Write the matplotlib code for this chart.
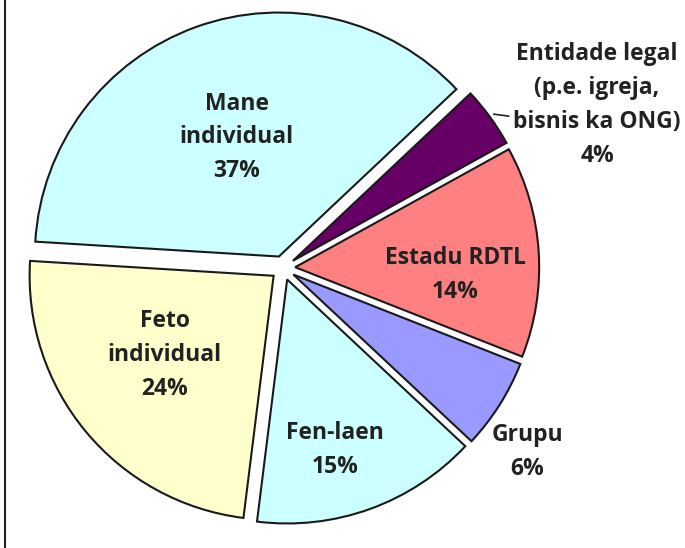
import numpy as np
import matplotlib
matplotlib.use("Agg")
import matplotlib.pyplot as plt
from matplotlib.lines import Line2D

plt.rcParams['font.family'] = ['Open Sans', 'DejaVu Sans']

# data
categories = ["Mane\nindividual", "Entidade legal\n(p.e. igreja,\nbisnis ka ONG)", "Estadu RDTL",
              "Grupu", "Fen-laen", "Feto\nindividual"]
shares = [37, 4, 14, 6, 15, 24]
colors = ["#CCFFFF", "#660066", "#FF8080", "#9999FF", "#CCFFFF", "#FFFFCC"]

# label centres (data units, radius = 1)
label_xy = [(-0.19, 0.535), (1.287, 0.668), (0.707, -0.03), (1.0, -0.755), (0.213, -0.745), (-0.484, -0.355)]

W, H = 685, 548
cx, cy, R = 283, 268, 244  # pie centre / radius in pixels

fig = plt.figure(figsize=(W / 100, H / 100), dpi=100)
ax = fig.add_axes([0, 0, 1, 1])

wedges, _ = ax.pie(shares, colors=colors, startangle=176.5, counterclock=False,
                   explode=[0.05] * len(shares),
                   wedgeprops=dict(edgecolor="#1a1a1a", linewidth=1.5))

for lab, val, (x, y) in zip(categories, shares, label_xy):
    ax.text(x, y, f"{lab}\n{val}%", ha="center", va="center", fontsize=16.5,
            fontweight="bold", color="#222222", linespacing=1.55)

# leader line for the small slice
w = wedges[1]
mid = np.deg2rad((w.theta1 + w.theta2) / 2)
x0 = w.center[0] + 1.02 * np.cos(mid)
y0 = w.center[1] + 1.02 * np.sin(mid)
ax.plot([x0, x0 + 0.06], [y0, y0 - 0.008], color="#222222", lw=1.2)

ax.set_xlim(-cx / R, (W - cx) / R)
ax.set_ylim(-(H - cy) / R, cy / R)
ax.set_aspect("auto")
ax.axis("off")

fig.add_artist(Line2D([5 / W, 5 / W], [0, 1], transform=fig.transFigure, color="#222222", lw=1.5))

fig.savefig("out.png", dpi=100, facecolor="white")
